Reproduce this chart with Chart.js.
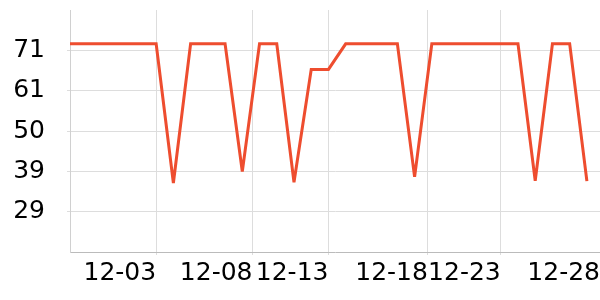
<!DOCTYPE html>
<html>
<head>
<meta charset="utf-8">
<script src="https://cdn.jsdelivr.net/npm/chart.js@4/dist/chart.umd.min.js"></script>
<style>
  html, body { margin: 0; padding: 0; background: #fff; }
  #wrap { width: 600px; height: 300px; }
</style>
</head>
<body>
<div id="wrap"><canvas id="lineChart" width="600" height="300"></canvas></div>
<script>
//DATA
// one point per day, index 0..30
const dayIndex = [0,1,2,3,4,5,6,7,8,9,10,11,12,13,14,15,16,17,18,19,20,21,22,23,24,25,26,27,28,29,30];
const values = [72.8,72.8,72.8,72.8,72.8,72.8,36.4,72.8,72.8,72.8,39.4,72.8,72.8,36.6,66.1,66.1,
                72.8,72.8,72.8,72.8,38.0,72.8,72.8,72.8,72.8,72.8,72.8,37.0,72.8,72.8,36.9];

// x tick positions (in day index units) and their labels
const xTickPos = [5, 10.59, 15, 20.77, 25, 30.76];
const xTickLabels = ["12-03", "12-08", "12-13", "12-18", "12-23", "12-28"];

// y ticks
const yTickVals = [28.9, 39.45, 50, 60.55, 71.1];
const yTickLabels = ["29", "39", "50", "61", "71"];

const FONT = { family: "'DejaVu Sans'", size: 25 };

// no extra label padding, keep the plot box fixed
function noPad(scale) {
  scale.paddingTop = 0;
  scale.paddingBottom = 0;
  scale.paddingLeft = 0;
  scale.paddingRight = 0;
}

// blunt the sharp spikes like an svg miter limit of 4
const miterPlugin = {
  id: "miter",
  beforeDatasetsDraw(chart) {
    chart.ctx.miterLimit = 4;
  },
};

//CHART
let ctx = document.querySelector("#lineChart").getContext("2d");

new Chart(ctx, {
  type: "line",
  data: {
    datasets: [
      {
        data: dayIndex.map((d, i) => ({ x: d, y: values[i] })),
        borderColor: "#ee4d2f",
        borderWidth: 3,
        borderJoinStyle: "miter",
        pointRadius: 0,
        tension: 0,
        fill: false,
      },
    ],
  },
  options: {
    responsive: false,
    animation: false,
    devicePixelRatio: 1,
    layout: { padding: { top: 10, right: 0, left: 0, bottom: 0 } },
    plugins: { legend: { display: false }, tooltip: { enabled: false } },
    scales: {
      x: {
        type: "linear",
        min: 0,
        max: 30.76,
        afterBuildTicks: (scale) => {
          scale.ticks = xTickPos.map((v) => ({ value: v }));
        },
        afterFit: (scale) => {
          scale.height = 48;
          noPad(scale);
        },
        ticks: {
          callback: (value, index) => xTickLabels[index],
          align: "end",
          autoSkip: false,
          maxRotation: 0,
          padding: 3,
          color: "#000",
          font: FONT,
        },
        grid: { color: "#dddddd", tickLength: 3 },
        border: { color: "#bbbbbb" },
      },
      y: {
        min: 18.35,
        max: 81.65,
        afterBuildTicks: (scale) => {
          scale.ticks = yTickVals.map((v) => ({ value: v }));
        },
        afterFit: (scale) => {
          scale.width = 70;
          noPad(scale);
        },
        ticks: {
          callback: (value, index) => yTickLabels[index],
          padding: 22,
          color: "#000",
          font: FONT,
        },
        grid: { color: "#dddddd", tickLength: 3 },
        border: { color: "#d0d0d0" },
      },
    },
  },
  plugins: [miterPlugin],
});
</script>
</body>
</html>
